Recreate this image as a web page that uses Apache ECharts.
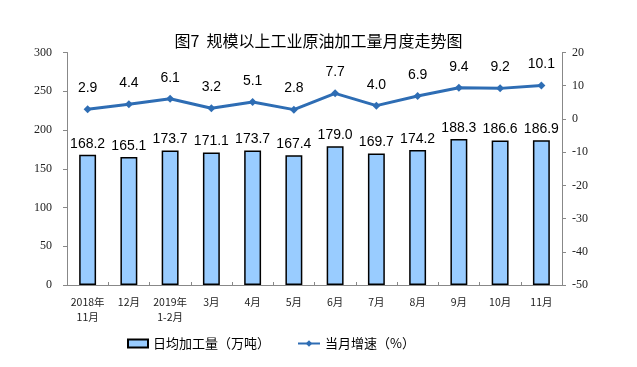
<!DOCTYPE html>
<html><head><meta charset="utf-8">
<script src="https://cdn.jsdelivr.net/npm/echarts@6/dist/echarts.min.js"></script>
<style>html,body{margin:0;padding:0;background:#fff}#c{width:637px;height:367px}</style>
</head><body><div id="c"></div>
<script>
const categories = ['2018年\n11月','12月','2019年\n1-2月','3月','4月','5月','6月','7月','8月','9月','10月','11月'];
const dailyOutput = [168.2,165.1,173.7,171.1,173.7,167.4,179.0,169.7,174.2,188.3,186.6,186.9];
const growth = [2.9,4.4,6.1,3.2,5.1,2.8,7.7,4.0,6.9,9.4,9.2,10.1];
const leftTicks = {min:0,max:300,interval:50};
const rightTicks = {min:-50,max:20,interval:10};

const chart = echarts.init(document.getElementById('c'));
const axisLine = {show:true,lineStyle:{color:'#888',width:1}};
const legendText = {fontFamily:'Noto Sans CJK SC',fontSize:13,color:'#000'};
chart.setOption({
  animation:false,
  title:{text:'图7  规模以上工业原油加工量月度走势图',left:'center',top:28,
    textStyle:{fontFamily:'Noto Sans CJK SC',fontSize:16,fontWeight:'normal',color:'#000'}},
  grid:{left:67,right:75,top:52.5,bottom:82},
  legend:[
    {left:122,top:332,itemWidth:20,itemHeight:8,itemGap:4,textStyle:legendText,
     data:[{name:'日均加工量（万吨）',icon:'rect'}]},
    {left:292,top:332,itemWidth:22,itemHeight:8,textStyle:legendText,
     data:[{name:'当月增速（%）'}]}
  ],
  xAxis:{type:'category',data:categories,
    axisLine:axisLine,axisTick:{show:true,inside:true,length:3,lineStyle:{color:'#888'}},
    axisLabel:{interval:0,fontFamily:'Noto Sans CJK SC',fontSize:10.5,color:'#222',margin:10,lineHeight:15}},
  yAxis:[
    {type:'value',min:leftTicks.min,max:leftTicks.max,interval:leftTicks.interval,
     axisLine:axisLine,axisTick:{show:true,length:4,lineStyle:{color:'#888'}},splitLine:{show:false},
     axisLabel:{fontFamily:'Liberation Serif',fontSize:12,color:'#222',margin:15}},
    {type:'value',min:rightTicks.min,max:rightTicks.max,interval:rightTicks.interval,
     axisLine:axisLine,axisTick:{show:true,length:4,lineStyle:{color:'#888'}},splitLine:{show:false},
     axisLabel:{fontFamily:'Liberation Serif',fontSize:12,color:'#222',margin:10}}
  ],
  series:[
    {name:'日均加工量（万吨）',type:'bar',data:dailyOutput,barWidth:'41%',yAxisIndex:0,
     itemStyle:{color:'#99CCFF',borderColor:'#000',borderWidth:1.5},
     label:{show:true,position:'top',distance:4,formatter:p=>p.value.toFixed(1),
       fontFamily:'Liberation Sans',fontSize:14,color:'#000'}},
    {name:'当月增速（%）',type:'line',data:growth,yAxisIndex:1,
     symbol:'diamond',symbolSize:8,
     lineStyle:{color:'#2E6DB4',width:3},itemStyle:{color:'#2E6DB4'},
     label:{show:true,position:'top',distance:10,formatter:p=>p.value.toFixed(1),
       fontFamily:'Liberation Sans',fontSize:14,color:'#000'}}
  ]
});
</script></body></html>
